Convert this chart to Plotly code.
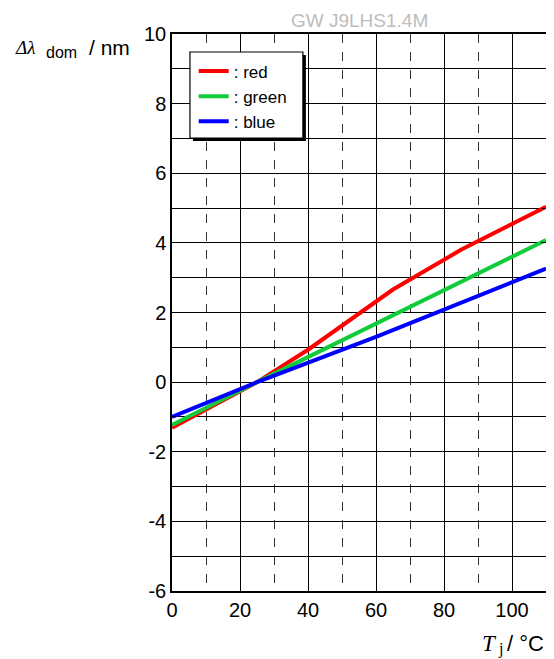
import plotly.graph_objects as go

temps_red = [0, 25, 40, 65, 85, 110]
red_vals = [-1.31, 0.0, 0.93, 2.66, 3.8, 5.04]
temps_green = [0, 25, 110]
green_vals = [-1.23, 0.0, 4.08]
temps_blue = [0, 25, 60, 110]
blue_vals = [-1.0, 0.0, 1.3, 3.26]

x_ticks = [0, 20, 40, 60, 80, 100]
y_ticks = [-6, -4, -2, 0, 2, 4, 6, 8, 10]
y_tick_labels = ["-6", "-4", "-2", "0", "2", "4", "6", "8", "10"]

series = [
    (": red", temps_red, red_vals, "#ff0000"),
    (": green", temps_green, green_vals, "#10cc3a"),
    (": blue", temps_blue, blue_vals, "#0000ff"),
]

fig = go.Figure()
for name, xs, ys, col in series:
    fig.add_trace(go.Scatter(x=xs, y=ys, mode="lines", name=name,
                             line=dict(color=col, width=4)))

sans = "Liberation Sans, Arial, Helvetica, sans-serif"
serif = "Liberation Serif, Times New Roman, serif"

fig.update_layout(
    width=554, height=659,
    margin=dict(l=163.5, r=16, t=26.3, b=76),
    paper_bgcolor="white", plot_bgcolor="white",
    font=dict(family=sans, size=20, color="black"),
    showlegend=True,
    legend=dict(x=0.058, y=0.965, xanchor="left", yanchor="top",
                bgcolor="rgba(0,0,0,0)", borderwidth=0,
                font=dict(size=17, family=sans),
                tracegroupgap=0, itemwidth=30),
    xaxis=dict(range=[0, 110], tickvals=x_ticks,
               showgrid=True, gridcolor="black", gridwidth=1,
               minor=dict(dtick=10, showgrid=True, griddash="dash",
                          gridcolor="#333333", gridwidth=1),
               zeroline=False, showline=True, linecolor="black", linewidth=1.5,
               mirror=True, ticks="", tickfont=dict(size=20)),
    yaxis=dict(range=[-6, 10], tickvals=y_ticks, ticktext=y_tick_labels,
               showgrid=True, gridcolor="black", gridwidth=1,
               minor=dict(dtick=1, showgrid=True, gridcolor="black", gridwidth=1,
                          ticks="inside", ticklen=4, tickcolor="black"),
               zeroline=False, showline=True, linecolor="black", linewidth=1.5,
               mirror="ticks", ticks="inside", ticklen=5, tickcolor="black",
               tickfont=dict(size=20)),
)

# legend box with shadow
fig.add_shape(type="rect", xref="paper", yref="paper",
              x0=0.056, x1=0.358, y0=0.8078, y1=0.9623,
              fillcolor="black", line=dict(width=0), layer="above")
fig.add_shape(type="rect", xref="paper", yref="paper",
              x0=0.048, x1=0.350, y0=0.8132, y1=0.9677,
              fillcolor="white", line=dict(width=1.2, color="black"), layer="above")

fig.add_annotation(text="GW J9LHS1.4M", xref="paper", yref="paper",
                   x=0.5, y=1.0, yshift=14, xanchor="center", yanchor="middle",
                   showarrow=False, font=dict(size=19, color="#bdbdbd", family=sans))
# y-axis label
fig.add_annotation(text="<i>Δλ</i>", xref="paper", yref="paper",
                   x=0, xshift=-135, y=1.0, yshift=-13,
                   xanchor="right", yanchor="middle", showarrow=False,
                   font=dict(size=19, family=serif))
fig.add_annotation(text="dom", xref="paper", yref="paper",
                   x=0, xshift=-93, y=1.0, yshift=-18,
                   xanchor="right", yanchor="middle", showarrow=False,
                   font=dict(size=16, family=sans))
fig.add_annotation(text="/ nm", xref="paper", yref="paper",
                   x=0, xshift=-40, y=1.0, yshift=-13,
                   xanchor="right", yanchor="middle", showarrow=False,
                   font=dict(size=21, family=sans))
# x-axis label
fig.add_annotation(text="<i>T</i>", xref="paper", yref="paper",
                   x=1.0, xshift=-47, y=0, yshift=-52,
                   xanchor="right", yanchor="middle", showarrow=False,
                   font=dict(size=23, family=serif))
fig.add_annotation(text="j", xref="paper", yref="paper",
                   x=1.0, xshift=-41, y=0, yshift=-58,
                   xanchor="right", yanchor="middle", showarrow=False,
                   font=dict(size=16, family=serif))
fig.add_annotation(text="/ °C", xref="paper", yref="paper",
                   x=1.0, xshift=0, y=0, yshift=-52,
                   xanchor="right", yanchor="middle", showarrow=False,
                   font=dict(size=22, family=sans))

fig.write_html("out.html")
